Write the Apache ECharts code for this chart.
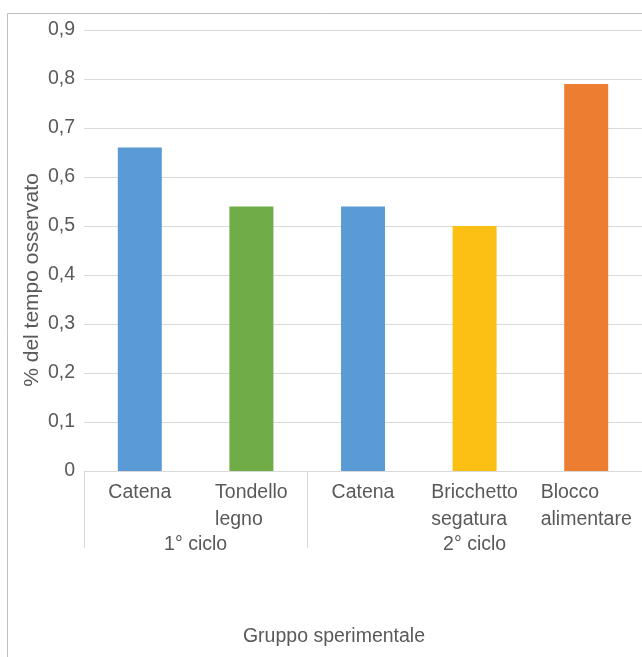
<!DOCTYPE html>
<html>
<head>
<meta charset="utf-8">
<script src="https://cdn.jsdelivr.net/npm/echarts@6/dist/echarts.min.js"></script>
<style>
  html, body { margin: 0; padding: 0; background: #fff; }
  #chart { width: 642px; height: 657px; }
</style>
</head>
<body>
<div id="chart"></div>
<script>
// Treatments (two lines each), their cycle group, and share of observed time
const categories = ['Catena', 'Tondello\nlegno', 'Catena', 'Bricchetto\nsegatura', 'Blocco\nalimentare'];
const values = [0.66, 0.54, 0.54, 0.50, 0.79];
const barColors = ['#5B9BD5', '#70AD47', '#5B9BD5', '#FCBF14', '#ED7D31'];
const groupNames = ['1° ciclo', '2° ciclo'];
const groupSizes = [2, 3];
const yTicks = [0, 0.1, 0.2, 0.3, 0.4, 0.5, 0.6, 0.7, 0.8, 0.9];

// Group boundaries and centres in category units
const groupEdges = [0];
groupSizes.forEach(n => groupEdges.push(groupEdges[groupEdges.length - 1] + n));
const groupCentres = groupSizes.map((n, i) => groupEdges[i] + n / 2);

const textColor = '#595959';
const lineColor = '#D9D9D9';
const font = 'Liberation Sans, Arial, sans-serif';
const fs = 19.5;

const chart = echarts.init(document.getElementById('chart'), null, { renderer: 'canvas' });
chart.setOption({
  animation: false,
  textStyle: { fontFamily: font },
  grid: { left: 84, top: 30, right: 0, bottom: 186, containLabel: false },
  graphic: [
    {
      type: 'rect',
      shape: { x: 7.5, y: 13.5, width: 800, height: 800 },
      style: { fill: null, stroke: '#BFBFBF', lineWidth: 1 },
      silent: true, z: -10
    },
    {
      type: 'text',
      x: 334, y: 637,
      style: {
        text: 'Gruppo sperimentale', fill: textColor,
        font: fs + 'px ' + font, align: 'center', verticalAlign: 'middle'
      }
    }
  ],
  xAxis: [
    {
      type: 'category',
      data: categories,
      boundaryGap: true,
      axisLine: { show: true, lineStyle: { color: lineColor, width: 1 } },
      axisTick: { show: false },
      axisLabel: {
        interval: 0, margin: 8, align: 'center',
        // each line left-aligned inside a block centred on its bar
        formatter: v => v.split('\n').map(s => '{l|' + s + '}').join('\n'),
        rich: { l: { align: 'left', color: textColor, fontSize: fs, lineHeight: 27, fontFamily: font } }
      }
    },
    {
      type: 'value',
      position: 'bottom',
      min: 0, max: groupEdges[groupEdges.length - 1],
      axisLine: { show: false },
      splitLine: { show: false },
      axisTick: {
        show: true, length: 77, inside: false,
        customValues: groupEdges,
        lineStyle: { color: lineColor, width: 1 }
      },
      axisLabel: {
        show: true, color: textColor, fontSize: fs, lineHeight: 22, margin: 63,
        customValues: groupCentres,
        formatter: v => groupNames[groupCentres.indexOf(v)] || ''
      }
    }
  ],
  yAxis: {
    type: 'value',
    min: yTicks[0], max: yTicks[yTicks.length - 1], interval: 0.1,
    name: '% del tempo osservato',
    nameLocation: 'middle', nameRotate: 90, nameGap: 41,
    nameMoveOverlap: false,
    nameTextStyle: { color: textColor, fontSize: 21, lineHeight: 22, padding: [0, 59, 0, 0] },
    axisLine: { show: false },
    axisTick: { show: false },
    axisLabel: {
      color: textColor, fontSize: fs, margin: 9,
      formatter: v => String(Math.round(v * 10) / 10).replace('.', ',')
    },
    splitLine: { lineStyle: { color: lineColor, width: 1 } }
  },
  series: [{
    type: 'bar',
    xAxisIndex: 0,
    barWidth: 44,
    data: values.map((v, i) => ({ value: v, itemStyle: { color: barColors[i] } }))
  }]
});
</script>
</body>
</html>
